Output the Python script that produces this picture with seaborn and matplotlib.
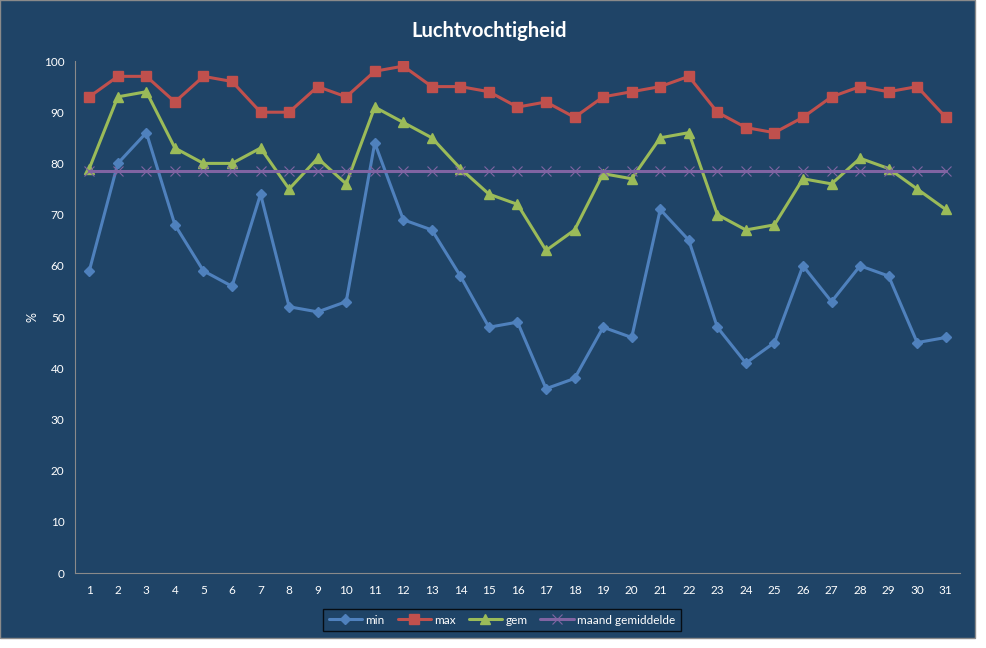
import matplotlib
matplotlib.use("Agg")
import matplotlib.pyplot as plt
import matplotlib.patches as mpatches
import numpy as np
import pandas as pd
import seaborn as sns

days = list(range(1, 32))
min_vals = [59, 80, 86, 68, 59, 56, 74, 52, 51, 53, 84, 69, 67, 58, 48, 49,
            36, 38, 48, 46, 71, 65, 48, 41, 45, 60, 53, 60, 58, 45, 46]
max_vals = [93, 97, 97, 92, 97, 96, 90, 90, 95, 93, 98, 99, 95, 95, 94, 91,
            92, 89, 93, 94, 95, 97, 90, 87, 86, 89, 93, 95, 94, 95, 89]
gem_vals = [79, 93, 94, 83, 80, 80, 83, 75, 81, 76, 91, 88, 85, 79, 74, 72,
            63, 67, 78, 77, 85, 86, 70, 67, 68, 77, 76, 81, 79, 75, 71]
maand_gem = 78.5

bg = "#1F4467"
sns.set_style("white")
plt.rcParams["font.family"] = ["Lato", "DejaVu Sans"]

df = pd.DataFrame({
    "dag": days,
    "min": min_vals,
    "max": max_vals,
    "gem": gem_vals,
    "maand gemiddelde": [maand_gem] * len(days),
})

fig = plt.figure(figsize=(9.87, 6.48), dpi=100, facecolor="white")
fig.patches.append(mpatches.Rectangle((0, 1 - 638 / 648), 975 / 987, 638 / 648,
                                      transform=fig.transFigure, facecolor=bg,
                                      edgecolor="#8a8a8a", linewidth=1, zorder=-10))
ax = fig.add_axes([75 / 987, 1 - 573 / 648, (960 - 75) / 987, (573 - 61) / 648])
ax.set_facecolor(bg)

styles = [
    ("min", "#4F81BD", "D", 5, 1),
    ("max", "#C0504D", "s", 7.5, 1),
    ("gem", "#9BBB59", "^", 7, 1),
    ("maand gemiddelde", "#8064A2", "x", 7, 0.8),
]
for name, col, mk, ms, mew in styles:
    sns.lineplot(data=df, x="dag", y=name, ax=ax, color=col, marker=mk,
                 markersize=ms, markeredgecolor=col, markeredgewidth=mew,
                 linewidth=2.2, label=name)

ax.set_xlim(0.5, 31.5)
ax.set_ylim(0, 100)
ax.set_xticks(days)
ax.set_xticks(np.arange(0.5, 32, 1), minor=True)
ax.tick_params(axis="x", which="major", length=0, pad=9, colors="white", labelsize=8.5)
ax.tick_params(axis="x", which="minor", length=4, color="#8a8a8a", direction="in")
ax.set_yticks(range(0, 101, 10))
ax.tick_params(axis="y", length=4, color="#8a8a8a", labelcolor="white", labelsize=8.5)
for sp in ["top", "right"]:
    ax.spines[sp].set_visible(False)
for sp in ["left", "bottom"]:
    ax.spines[sp].set_color("#8a8a8a")
ax.set_xlabel("")
ax.set_ylabel("%", color="white", fontsize=9, labelpad=4)

fig.text(0.496, 1 - 31 / 648, "Luchtvochtigheid", ha="center", va="center",
         color="white", fontsize=14.5, fontweight="bold")

leg = ax.legend(loc="center", bbox_to_anchor=(502 / 987, 1 - 620 / 648),
                bbox_transform=fig.transFigure, ncol=4, frameon=True,
                fontsize=8.5, handlelength=2.8, columnspacing=1.1,
                handletextpad=0.3, borderpad=0.5, fancybox=False)
leg.get_frame().set_facecolor(bg)
leg.get_frame().set_edgecolor("black")
for t in leg.get_texts():
    t.set_color("white")

fig.savefig("out.png", dpi=100, facecolor="white")
